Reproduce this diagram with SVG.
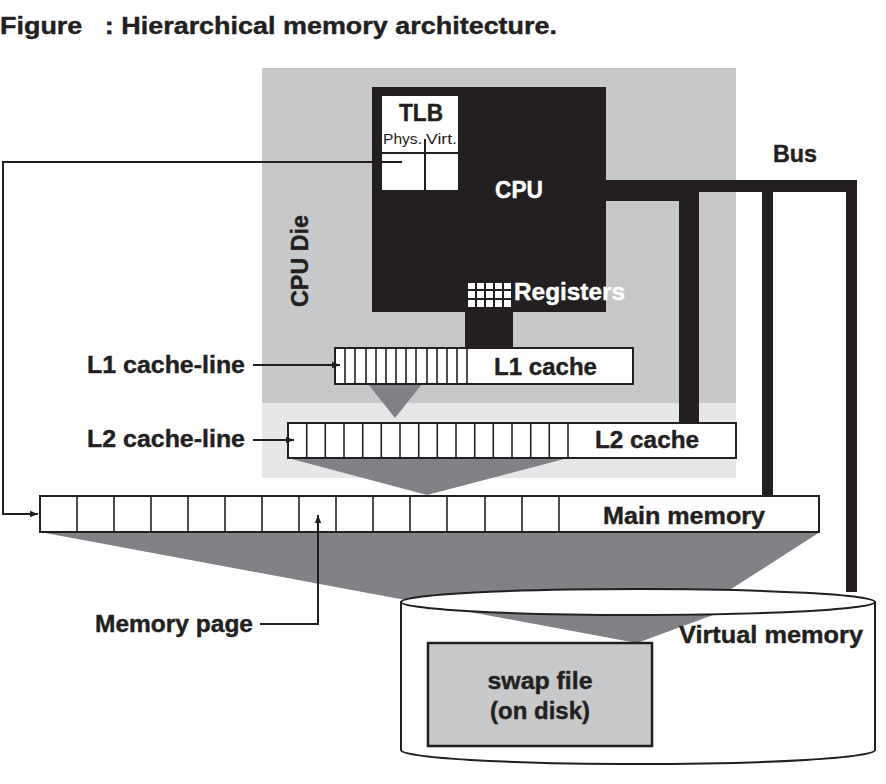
<svg xmlns="http://www.w3.org/2000/svg" width="886" height="784" viewBox="0 0 886 784">
<defs>
<style>
.t{font-family:"Liberation Sans",Arial,sans-serif;font-weight:bold;fill:#231f20;font-size:23px;stroke:#231f20;stroke-width:0.4}
.w{fill:#ffffff;stroke:#ffffff}
.wr{fill:#ffffff}
.box{fill:#ffffff;stroke:#231f20;stroke-width:2}
.cell{stroke:#231f20;stroke-width:1.6}
.ln{fill:none;stroke:#231f20;stroke-width:2}
.blk{fill:#231f20}
.tri{fill:#808285}
.sm{font-family:"Liberation Sans",Arial,sans-serif;font-size:15px;fill:#231f20}
</style>
<marker id="ah" viewBox="0 0 10 10" refX="10" refY="5" markerWidth="10" markerHeight="8" markerUnits="userSpaceOnUse" orient="auto">
<path d="M0,1 L10,5 L0,9 Z" fill="#231f20"/>
</marker>
</defs>
<rect width="886" height="784" fill="#ffffff"/>
<text class="t" x="0" y="34" textLength="557" lengthAdjust="spacingAndGlyphs" xml:space="preserve">Figure   : Hierarchical memory architecture.</text>

<g id="cpu-die">
<rect x="262" y="68" width="474" height="335" fill="#c7c8ca"/>
<rect x="262" y="403" width="474" height="75" fill="#e6e7e8"/>
<text class="t" transform="translate(308,261) rotate(-90)" text-anchor="middle" textLength="92" lengthAdjust="spacingAndGlyphs">CPU Die</text>
</g>

<g id="virtual-memory">
<path d="M401,602 L401,750 A237,14 0 0 0 875,750 L875,602 Z" class="box"/>
</g>

<g id="mappings">
<polygon class="tri" points="368,384 422,384 395,418"/>
<polygon class="tri" points="288,458 568,458 427,495"/>
<polygon class="tri" points="40,532 820,532 728,591 713,615 637,643"/>
</g>

<g id="virtual-memory-top">
<ellipse cx="638" cy="602" rx="237" ry="13" class="box"/>
<text class="t" x="679" y="643" textLength="184" lengthAdjust="spacingAndGlyphs">Virtual memory</text>
</g>

<g id="swap-file">
<rect x="428" y="643" width="224" height="103" fill="#c7c8ca" stroke="#231f20" stroke-width="2.5"/>
<text class="t" x="540" y="689" text-anchor="middle" textLength="105" lengthAdjust="spacingAndGlyphs">swap file</text>
<text class="t" x="540" y="719" text-anchor="middle" textLength="100" lengthAdjust="spacingAndGlyphs">(on disk)</text>
</g>

<g id="bus">
<rect class="blk" x="606" y="180" width="93" height="21"/>
<rect class="blk" x="679" y="180" width="20" height="243"/>
<rect class="blk" x="699" y="180" width="158" height="12"/>
<rect class="blk" x="762" y="180" width="11" height="315"/>
<rect class="blk" x="846" y="180" width="11" height="412"/>
<text class="t" x="773" y="162" textLength="44" lengthAdjust="spacingAndGlyphs">Bus</text>
</g>

<g id="cpu">
<rect class="blk" x="372" y="87" width="234" height="225"/>
<rect class="blk" x="465" y="310" width="48" height="39"/>
<text class="t w" x="519" y="198" text-anchor="middle" textLength="48" lengthAdjust="spacingAndGlyphs">CPU</text>
</g>

<g id="tlb">
<rect x="382" y="96" width="76" height="94" fill="#ffffff"/>
<text class="t" x="421" y="121" text-anchor="middle" textLength="44" lengthAdjust="spacingAndGlyphs">TLB</text>
<text class="sm" x="383" y="144" textLength="39" lengthAdjust="spacingAndGlyphs">Phys.</text>
<text class="sm" x="426" y="144" textLength="31" lengthAdjust="spacingAndGlyphs">Virt.</text>
<line class="ln" x1="382" y1="153" x2="458" y2="153"/>
<line class="ln" x1="425" y1="139" x2="425" y2="190"/>
</g>

<g id="registers">
<g class="wr">
<rect x="468" y="283" width="7" height="6"/><rect x="477" y="283" width="7" height="6"/><rect x="486" y="283" width="7" height="6"/><rect x="495" y="283" width="7" height="6"/><rect x="504" y="283" width="7" height="6"/>
<rect x="468" y="291" width="7" height="7"/><rect x="477" y="291" width="7" height="7"/><rect x="486" y="291" width="7" height="7"/><rect x="495" y="291" width="7" height="7"/><rect x="504" y="291" width="7" height="7"/>
<rect x="468" y="300" width="7" height="7"/><rect x="477" y="300" width="7" height="7"/><rect x="486" y="300" width="7" height="7"/><rect x="495" y="300" width="7" height="7"/><rect x="504" y="300" width="7" height="7"/>
</g>
<text class="t w" x="514" y="300" textLength="111" lengthAdjust="spacingAndGlyphs">Registers</text>
</g>

<g id="l1-cache">
<rect class="box" x="335" y="348" width="298" height="36"/>
<g class="cell">
<line x1="345" y1="348" x2="345" y2="384"/><line x1="355" y1="348" x2="355" y2="384"/><line x1="366" y1="348" x2="366" y2="384"/><line x1="376" y1="348" x2="376" y2="384"/><line x1="386" y1="348" x2="386" y2="384"/><line x1="396" y1="348" x2="396" y2="384"/><line x1="406" y1="348" x2="406" y2="384"/><line x1="416" y1="348" x2="416" y2="384"/><line x1="427" y1="348" x2="427" y2="384"/><line x1="437" y1="348" x2="437" y2="384"/><line x1="447" y1="348" x2="447" y2="384"/><line x1="457" y1="348" x2="457" y2="384"/><line x1="467" y1="348" x2="467" y2="384"/>
</g>
<text class="t" x="494" y="375" textLength="103" lengthAdjust="spacingAndGlyphs">L1 cache</text>
</g>

<g id="l2-cache">
<rect class="box" x="288" y="423" width="448" height="35" fill="#e6e7e8"/>
<rect x="289" y="424" width="279" height="33" fill="#ffffff"/>
<g class="cell">
<line x1="306.7" y1="423" x2="306.7" y2="458"/><line x1="325.3" y1="423" x2="325.3" y2="458"/><line x1="344" y1="423" x2="344" y2="458"/><line x1="362.7" y1="423" x2="362.7" y2="458"/><line x1="381.3" y1="423" x2="381.3" y2="458"/><line x1="400" y1="423" x2="400" y2="458"/><line x1="418.7" y1="423" x2="418.7" y2="458"/><line x1="437.3" y1="423" x2="437.3" y2="458"/><line x1="456" y1="423" x2="456" y2="458"/><line x1="474.7" y1="423" x2="474.7" y2="458"/><line x1="493.3" y1="423" x2="493.3" y2="458"/><line x1="512" y1="423" x2="512" y2="458"/><line x1="530.7" y1="423" x2="530.7" y2="458"/><line x1="549.3" y1="423" x2="549.3" y2="458"/><line x1="568" y1="423" x2="568" y2="458"/>
</g>
<text class="t" x="595" y="448" textLength="104" lengthAdjust="spacingAndGlyphs">L2 cache</text>
</g>

<g id="main-memory">
<rect class="box" x="40" y="496" width="779" height="36"/>
<g class="cell">
<line x1="77" y1="496" x2="77" y2="532"/><line x1="114" y1="496" x2="114" y2="532"/><line x1="151" y1="496" x2="151" y2="532"/><line x1="188" y1="496" x2="188" y2="532"/><line x1="225" y1="496" x2="225" y2="532"/><line x1="262" y1="496" x2="262" y2="532"/><line x1="299" y1="496" x2="299" y2="532"/><line x1="336" y1="496" x2="336" y2="532"/><line x1="373" y1="496" x2="373" y2="532"/><line x1="410" y1="496" x2="410" y2="532"/><line x1="447" y1="496" x2="447" y2="532"/><line x1="485" y1="496" x2="485" y2="532"/><line x1="522" y1="496" x2="522" y2="532"/><line x1="559" y1="496" x2="559" y2="532"/>
</g>
<text class="t" x="603" y="524" textLength="162" lengthAdjust="spacingAndGlyphs">Main memory</text>
</g>

<g id="labels">
<text class="t" x="87" y="373" textLength="158" lengthAdjust="spacingAndGlyphs">L1 cache-line</text>
<text class="t" x="87" y="447" textLength="158" lengthAdjust="spacingAndGlyphs">L2 cache-line</text>
<text class="t" x="95" y="632" textLength="158" lengthAdjust="spacingAndGlyphs">Memory page</text>
</g>

<g id="connectors">
<path class="ln" d="M402,162 H3 V514 H38" marker-end="url(#ah)"/>
<path class="ln" d="M253,365 H340" marker-end="url(#ah)"/>
<path class="ln" d="M253,440 H294" marker-end="url(#ah)"/>
<path class="ln" d="M260,624 H318 V515" marker-end="url(#ah)"/>
</g>
</svg>
